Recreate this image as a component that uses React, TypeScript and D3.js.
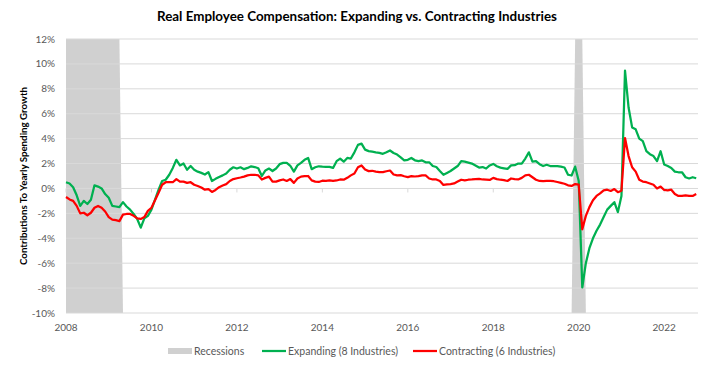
import React from "react";
import * as d3 from "d3";

// monthly values, Jan 2008 .. Oct 2022 (percentage points)
const expanding = [
  0.5, 0.4, 0.1, -0.55, -1.4, -1.0, -1.25, -0.9, 0.25, 0.15, 0.0, -0.45,
  -0.75, -1.4, -1.45, -1.5, -1.1, -1.45, -1.7, -2.05, -2.45, -3.15, -2.4, -2.2,
  -1.7, -0.9, -0.1, 0.6, 0.7, 1.1, 1.65, 2.3, 1.85, 2.0, 1.5, 1.8,
  1.5, 1.35, 1.25, 1.12, 1.31, 0.6, 0.77, 0.92, 1.05, 1.2, 1.5, 1.7,
  1.6, 1.7, 1.55, 1.65, 1.78, 1.72, 1.62, 1.0, 1.45, 1.6, 1.4, 1.6,
  1.95, 2.05, 2.05, 1.82, 1.35, 1.85, 2.05, 2.3, 2.45, 1.55, 1.7, 1.78,
  1.75, 1.73, 1.73, 1.65, 2.19, 2.4, 2.15, 2.45, 2.4, 2.9, 3.5, 3.6,
  3.12, 3.0, 2.95, 2.9, 2.86, 2.78, 2.9, 3.05, 2.85, 2.72, 2.5, 2.25,
  2.3, 2.45, 2.26, 2.19, 2.25, 2.1, 2.1, 1.8, 1.72, 1.4, 1.1, 1.25,
  1.4, 1.6, 1.8, 2.2, 2.15, 2.08, 2.0, 1.84, 1.68, 1.72, 1.6, 1.85,
  1.97, 1.78, 1.67, 1.62, 1.57, 1.85, 1.87, 2.0, 2.0, 2.4, 2.9, 2.15,
  2.19, 1.95, 1.8, 1.9, 1.8, 1.8, 1.8, 1.75, 1.68, 1.1, 1.04, 1.75,
  0.6, -7.95, -6.0, -4.8, -4.0, -3.4, -2.9, -2.3, -1.7, -1.4, -1.1, -1.9,
  -0.6, 9.47, 6.5, 4.9, 4.75, 4.0, 3.8, 3.0, 2.75, 2.6, 2.2, 2.99,
  1.92, 1.8, 1.65, 1.35, 1.3, 1.3, 0.9, 0.8, 0.9, 0.82,
];

const contracting = [
  -0.69, -0.88, -1.0, -1.4, -2.0, -1.95, -2.15, -1.95, -1.55, -1.4, -1.55, -1.85,
  -2.3, -2.5, -2.55, -2.62, -2.1, -2.05, -2.05, -2.2, -2.4, -2.45, -2.3, -1.8,
  -1.55, -0.95, -0.35, 0.3, 0.5, 0.5, 0.5, 0.75, 0.55, 0.55, 0.45, 0.5,
  0.3, 0.2, 0.08, -0.1, -0.05, -0.28, -0.12, 0.1, 0.24, 0.35, 0.6, 0.75,
  0.82, 0.88, 0.95, 1.05, 1.1, 1.1, 1.05, 0.72, 0.85, 0.95, 0.55, 0.55,
  0.65, 0.72, 0.6, 0.75, 0.45, 0.8, 0.95, 0.99, 1.0, 0.65, 0.55, 0.52,
  0.62, 0.6, 0.64, 0.6, 0.64, 0.72, 0.7, 0.85, 1.05, 1.2, 1.7, 1.85,
  1.52, 1.39, 1.42, 1.35, 1.32, 1.31, 1.38, 1.44, 1.12, 1.05, 1.07, 0.98,
  0.91, 0.99, 0.96, 0.99, 1.05, 1.05, 0.8, 0.72, 0.72, 0.6, 0.28, 0.32,
  0.35, 0.4, 0.55, 0.7, 0.65, 0.7, 0.72, 0.75, 0.77, 0.72, 0.7, 0.68,
  0.85, 0.75, 0.7, 0.67, 0.6, 0.8, 0.75, 0.72, 0.85, 1.05, 1.1, 0.9,
  0.7, 0.6, 0.58, 0.6, 0.6, 0.58, 0.52, 0.45, 0.38, 0.25, 0.2, 0.35,
  0.3, -3.28, -2.2, -1.5, -0.95, -0.6, -0.4, -0.15, -0.1, -0.2, -0.05, -0.3,
  -0.18, 4.05, 2.6, 1.7, 1.35, 0.7, 0.55, 0.5, 0.4, 0.3, 0.0, 0.15,
  -0.12, -0.15, -0.1, -0.45, -0.6, -0.6, -0.55, -0.6, -0.6, -0.45,
];

// recession spans, month index from Jan 2008
const recessionStart = [0, 143];
const recessionEnd = [15, 145];

const yearLabels = ["2008", "2010", "2012", "2014", "2016", "2018", "2020", "2022"];
const yTickValues = [-10, -8, -6, -4, -2, 0, 2, 4, 6, 8, 10, 12];

const W = 721;
const H = 372;
const FONT = "Lato, 'Open Sans', sans-serif";
const GREEN = "#00b050";
const RED = "#ff0000";
const GREY = "#595959";

export default function App() {
  const x = d3.scaleLinear().domain([0, 177.5]).range([66, 698]);
  const y = d3.scaleLinear().domain([-10, 12]).range([313, 39]);
  const [x0, x1] = x.range();

  const mkLine = d3
    .line<number>()
    .x((_, i) => x(i))
    .y((d) => y(d));

  const clampX = (v: number) => Math.max(x0, Math.min(x1, v));

  return (
    <div style={{ position: "fixed", left: 0, top: 0 }}>
      <svg width={W} height={H} style={{ display: "block", background: "#fff" }}>
        <text
          x={357}
          y={21}
          textAnchor="middle"
          fontFamily={FONT}
          fontWeight="bold"
          fontSize={12.5}
          textLength={400}
          lengthAdjust="spacingAndGlyphs"
          fill="#000"
        >
          Real Employee Compensation: Expanding vs. Contracting Industries
        </text>

        {/* recession shading */}
        {recessionStart.map((s, i) => {
          const e = recessionEnd[i];
          const pts = [
            [clampX(x(s)), y(12)],
            [clampX(x(e)), y(12)],
            [clampX(x(e + 1)), y(-10)],
            [clampX(x(s - 1)), y(-10)],
          ];
          return <polygon key={i} points={pts.map((p) => p.join(",")).join(" ")} fill="#d0d0d0" />;
        })}

        {/* gridlines */}
        {yTickValues.map((t) => (
          <line key={t} x1={x0} x2={x1} y1={y(t)} y2={y(t)} stroke="#d9d9d9" strokeWidth={1} />
        ))}

        {/* ticks on the zero axis */}
        {yearLabels.map((lab, i) => (
          <line key={lab} x1={x(i * 24)} x2={x(i * 24)} y1={y(0)} y2={y(0) + 4} stroke="#d9d9d9" strokeWidth={1} />
        ))}

        {yTickValues.map((t) => (
          <text key={t} x={55} y={y(t) + 3.5} textAnchor="end" fontFamily={FONT} fontSize={10} fill={GREY}>
            {t}%
          </text>
        ))}

        {yearLabels.map((lab, i) => (
          <text key={lab} x={x(i * 24)} y={331} textAnchor="middle" fontFamily={FONT} fontSize={10} fill={GREY}>
            {lab}
          </text>
        ))}

        <text
          transform={`translate(27,${(y(12) + y(-10)) / 2}) rotate(-90)`}
          textAnchor="middle"
          fontFamily={FONT}
          fontWeight="bold"
          fontSize={8.5}
          textLength={178}
          lengthAdjust="spacingAndGlyphs"
          fill="#000"
        >
          Contributions To Yearly Spending Growth
        </text>

        <path d={mkLine(expanding) ?? ""} fill="none" stroke={GREEN} strokeWidth={2.25} strokeLinejoin="round" />
        <path d={mkLine(contracting) ?? ""} fill="none" stroke={RED} strokeWidth={2.25} strokeLinejoin="round" />

        {/* legend */}
        <rect x={168} y={348} width={24} height={6} fill="#d0d0d0" />
        <text x={194} y={355} fontFamily={FONT} fontSize={10.5} fill={GREY}>
          Recessions
        </text>
        <line x1={262} x2={286} y1={351} y2={351} stroke={GREEN} strokeWidth={2.25} />
        <text x={288} y={355} fontFamily={FONT} fontSize={10.5} fill={GREY}>
          Expanding (8 Industries)
        </text>
        <line x1={413} x2={437} y1={351} y2={351} stroke={RED} strokeWidth={2.25} />
        <text x={439} y={355} fontFamily={FONT} fontSize={10.5} fill={GREY}>
          Contracting (6 Industries)
        </text>
      </svg>
    </div>
  );
}
